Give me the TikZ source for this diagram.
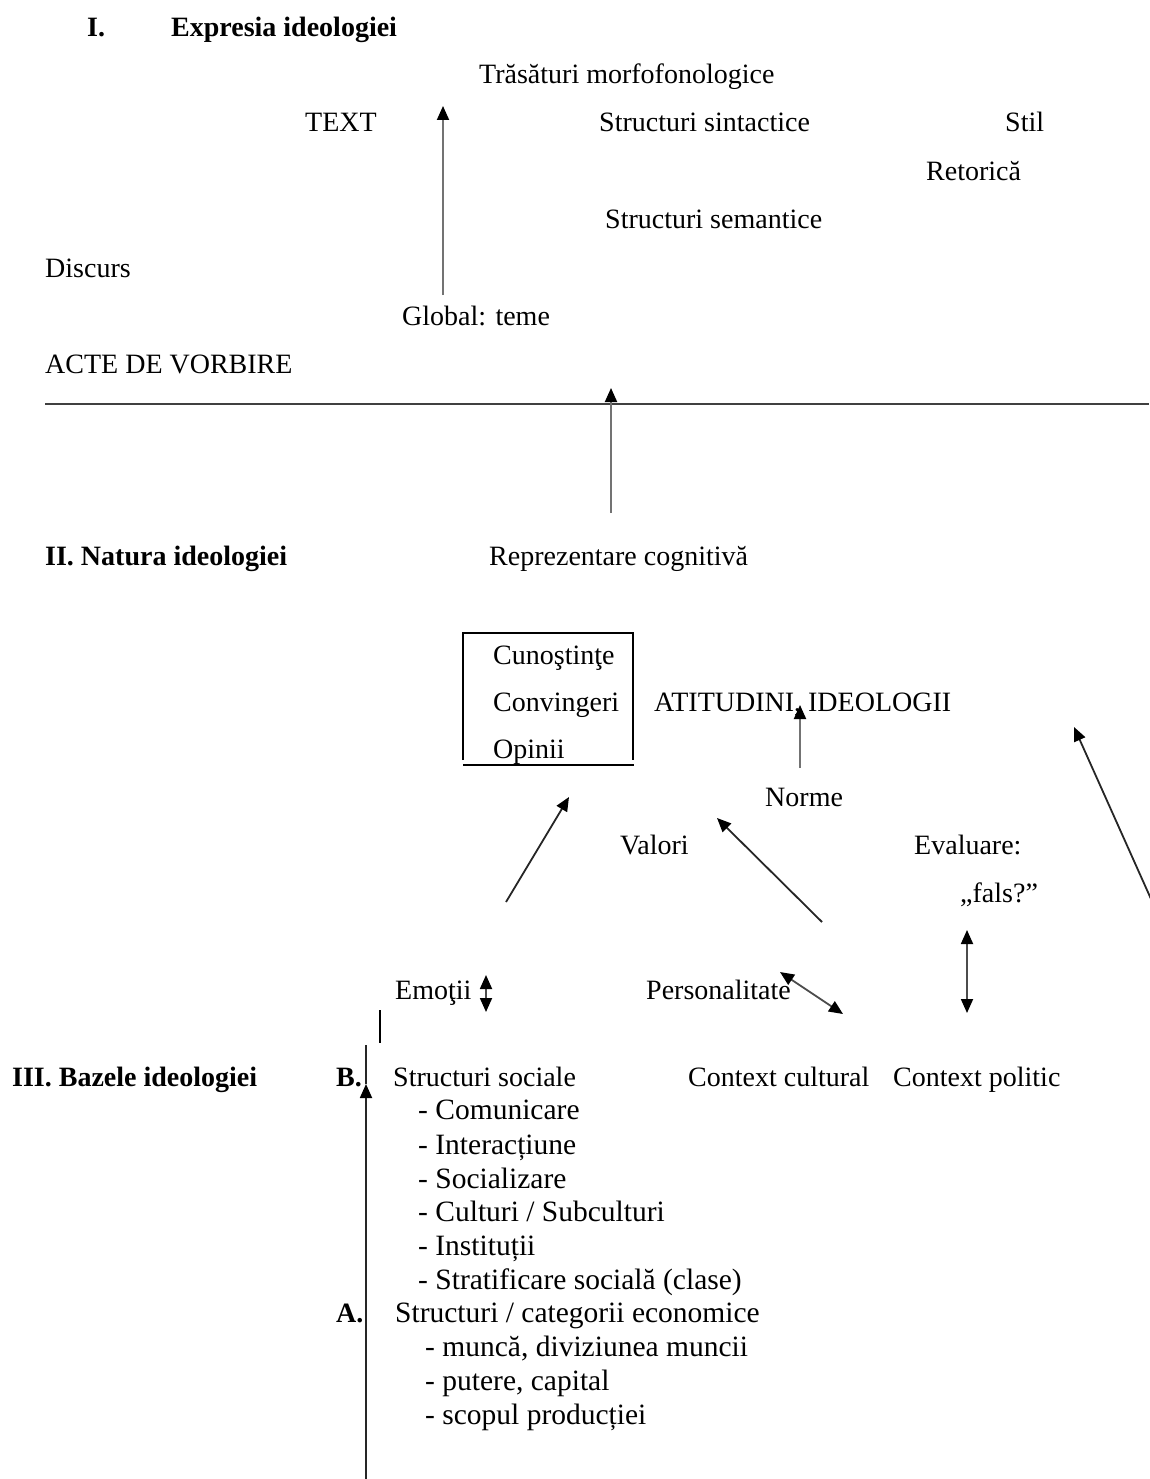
\documentclass[tikz,border=0pt]{standalone}
\usepackage{fontspec}
\setmainfont{Liberation Serif}
\usetikzlibrary{arrows.meta}
\begin{document}
\begin{tikzpicture}[x=1pt,y=-1pt,
  lbl/.style={anchor=base west,inner sep=0pt,font=\fontsize{28}{34}\selectfont},
  head/.style={anchor=base west,inner sep=0pt,font=\fontsize{28}{34}\selectfont\bfseries},
  item/.style={anchor=base west,inner sep=0pt,font=\fontsize{29.5}{34}\selectfont},
  arr/.style={draw=black!85,line width=1.8pt,-{Triangle[length=14pt,width=12pt,color=black]}},
  garr/.style={draw=black!55,line width=1.9pt,-{Triangle[length=14pt,width=12pt,color=black]}},
  dbl/.style={draw=black!70,line width=1.8pt,{Triangle[length=14pt,width=12pt,color=black]}-{Triangle[length=14pt,width=12pt,color=black]}},
  rule/.style={draw=black!75,line width=1.8pt}]
\useasboundingbox (0,0) rectangle (1149,1479);

% ---------- I. Expresia ideologiei ----------
\node[head] (h1num) at (87,37) {I.};
\node[head] (h1) at (171,37) {Expresia ideologiei};
\node[lbl] (morf) at (479,84) {Trăsături morfofonologice};
\node[lbl] (text) at (305,132) {TEXT};
\node[lbl] (sint) at (599,132) {Structuri sintactice};
\node[lbl] (stil) at (1005,132) {Stil};
\node[lbl] (ret) at (926,181) {Retorică};
\node[lbl] (sem) at (605,229) {Structuri semantice};
\node[lbl] (disc) at (45,277) {Discurs};
\node[lbl] (glob) at (402,325) {Global: teme};
\node[lbl] (acte) at (45,373) {ACTE DE VORBIRE};

\coordinate (globtop) at (443,295);
\coordinate (textup) at (443,106);
\draw[garr] (globtop) -- (textup);

\coordinate (ruleL) at (45,404);
\coordinate (ruleR) at (1149,404);
\draw[rule] (ruleL) -- (ruleR);

% ---------- II. Natura ideologiei ----------
\node[head] (h2) at (45,565) {II. Natura ideologiei};
\node[lbl] (repr) at (489,565) {Reprezentare cognitivă};
\coordinate (reprtop) at (611,513);
\coordinate (reprup) at (611,388);
\draw[garr] (reprtop) -- (reprup);

\node[lbl] (cun) at (493,664) {Cunoştinţe};
\node[lbl] (conv) at (493,711) {Convingeri};
\node[lbl] (opi) at (493,758) {Opinii};
\coordinate (boxBL) at (463,760);
\coordinate (boxTL) at (463,633);
\coordinate (boxTR) at (633,633);
\coordinate (boxBR) at (633,760);
\draw[line width=1.5pt] (boxBL) -- (boxTL) -- (boxTR) -- (boxBR);
\coordinate (baseL) at (463,765);
\coordinate (baseR) at (634,765);
\draw[line width=1.5pt] (baseL) -- (baseR);

\node[lbl] (atit) at (654,711) {ATITUDINI, IDEOLOGII};
\node[lbl] (norme) at (765,806) {Norme};
\node[lbl] (valori) at (620,854) {Valori};
\node[lbl] (eval) at (914,854) {Evaluare:};
\node[lbl] (fals) at (960,902) {„fals?”};

\coordinate (normetop) at (800,768);
\coordinate (atitup) at (800,705);
\draw[garr] (normetop) -- (atitup);

\coordinate (emoA) at (506,902);
\coordinate (boxin) at (569,797);
\draw[arr] (emoA) -- (boxin);

\coordinate (cultA) at (822,922);
\coordinate (valin) at (717,818);
\draw[arr] (cultA) -- (valin);

\coordinate (polA) at (1151,899);
\coordinate (ideoin) at (1074,727);
\draw[arr] (polA) -- (ideoin);

\coordinate (falsdn) at (967,930);
\coordinate (poltop) at (967,1013);
\draw[dbl] (falsdn) -- (poltop);

\node[lbl] (emo) at (395,999) {Emoţii};
\coordinate (emoT) at (486,975);
\coordinate (emoB) at (486,1012);
\draw[dbl] (emoT) -- (emoB);

\node[lbl] (pers) at (646,999) {Personalitate};
\coordinate (persE) at (780,972);
\coordinate (cultT) at (843,1014);
\draw[dbl] (persE) -- (cultT);

% ---------- III. Bazele ideologiei ----------
\node[head] (h3) at (12,1086) {III. Bazele ideologiei};
\node[head] (bB) at (336,1086) {B.};
\node[lbl] (soc) at (393,1086) {Structuri sociale};
\node[lbl] (cult) at (688,1086) {Context cultural};
\node[lbl] (pol) at (893,1086) {Context politic};

\node[item] (s1) at (418,1119) {- Comunicare};
\node[item] (s2) at (418,1154) {- Interacțiune};
\node[item] (s3) at (418,1188) {- Socializare};
\node[item] (s4) at (418,1221) {- Culturi / Subculturi};
\node[item] (s5) at (418,1255) {- Instituții};
\node[item] (s6) at (418,1289) {- Stratificare socială (clase)};

\node[head] (aA) at (336,1322) {A.};
\node[item] (eco) at (395,1322) {Structuri / categorii economice};
\node[item] (e1) at (425,1356) {- muncă, diviziunea muncii};
\node[item] (e2) at (425,1390) {- putere, capital};
\node[item] (e3) at (425,1424) {- scopul producției};

\coordinate (stubT) at (380,1010);
\coordinate (stubB) at (380,1043);
\draw[line width=1.5pt] (stubT) -- (stubB);

\coordinate (axisB) at (366,1479);
\coordinate (axisM) at (366,1084);
\coordinate (axisT) at (366,1045);
\draw[arr] (axisB) -- (axisM);
\draw[line width=1.8pt,draw=black!85] (axisM) -- (axisT);
\end{tikzpicture}
\end{document}
